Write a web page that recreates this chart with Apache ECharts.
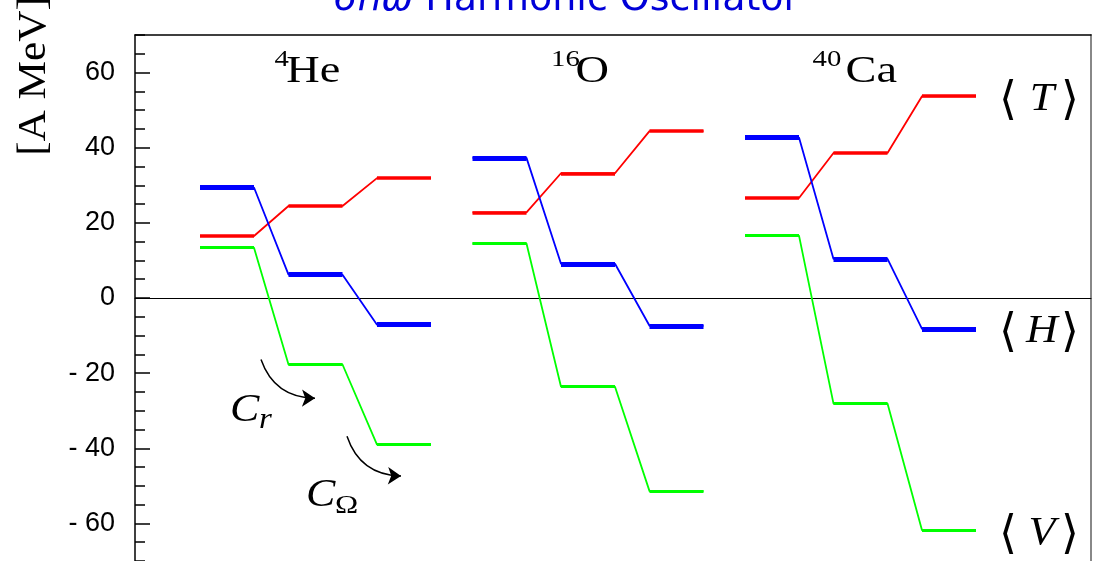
<!DOCTYPE html>
<html><head><meta charset="utf-8">
<script src="https://cdn.jsdelivr.net/npm/echarts@6/dist/echarts.min.js"></script>
<style>html,body{margin:0;padding:0;background:#fff}#c{width:1102px;height:561px}</style>
</head><body><div id="c"></div>
<script>
// ---- data ----
const massNumbers = ['4', '16', '40'];
const elements = ['He', 'O', 'Ca'];
const kineticT = [[16.5, 24.5, 31.9], [22.8, 33.2, 44.4], [26.6, 38.6, 53.7]];
const potentialV = [[13.4, -17.7, -39.0], [14.5, -23.6, -51.4], [16.6, -28.1, -61.8]];
const totalH = [[29.4, 6.2, -7.1], [37.3, 9.1, -7.4], [42.7, 10.4, -8.2]];
const yTickLabels = [-60, -40, -20, 0, 20, 40, 60];
const quantityNames = ['T', 'V', 'H'];
const titleItalic = '6ℏω';
const titleRest = ' Harmonic Oscillator';
const yName = '[A MeV]';

// ---- layout ----
const GRID = { left: 135, right: 11, top: 35, bottom: -2 };
const X_MAX = 956;
const LEVEL_W = 54;
function levelX(i, j) { return 65 + i * 272.5 + j * 88.5; }
const SERIF = '"Liberation Serif","Times New Roman",serif';
const SANS = '"Liberation Sans",Arial,sans-serif';

const quantities = [
  { name: quantityNames[0], values: kineticT, color: '#ff0000', thick: 3.5, thin: 1.8 },
  { name: quantityNames[1], values: potentialV, color: '#00ff00', thick: 3.2, thin: 1.8 },
  { name: quantityNames[2], values: totalH, color: '#0000ff', thick: 5, thin: 1.8 }
];

const series = [];
quantities.forEach(q => {
  const seg = [];
  q.values.forEach((lv, i) => {
    const pts = [];
    lv.forEach((v, j) => {
      const x0 = levelX(i, j);
      pts.push([x0, v], [x0 + LEVEL_W, v]);
      seg.push({ coords: [[x0, v], [x0 + LEVEL_W, v]] });
    });
    series.push({
      type: 'line', data: pts, showSymbol: false, symbol: 'none', silent: true,
      lineStyle: { color: q.color, width: q.thin }, z: 3
    });
  });
  series.push({
    type: 'lines', coordinateSystem: 'cartesian2d', polyline: false, silent: true,
    lineStyle: { color: q.color, width: q.thick, opacity: 1, cap: 'butt' },
    data: seg, z: 4
  });
});

// curved arrows (C_r and C_Omega)
const arrowCoords = [
  [[126, -16.4], [180, -26.7]],
  [[212, -36.8], [266, -47.4]]
];
series.push({
  type: 'lines', coordinateSystem: 'cartesian2d', silent: true,
  symbol: ['none', 'arrow'], symbolSize: 13,
  lineStyle: { color: '#000', width: 1.5, opacity: 1, curveness: -0.35 },
  itemStyle: { color: '#000' },
  data: arrowCoords.map(c => ({ coords: c })), z: 5
});

function txt(text, x, baseline, fs, opts) {
  opts = opts || {};
  return {
    type: 'text', x: x, y: baseline - 0.34 * fs, silent: true, z: 10,
    scaleX: opts.scaleX || 1,
    originX: 0, originY: 0,
    style: {
      text: text, fontSize: fs, fontFamily: opts.family || SERIF,
      fontStyle: opts.italic ? 'italic' : 'normal',
      fill: opts.color || '#000', align: opts.align || 'left', verticalAlign: 'middle'
    }
  };
}

const supLeft = [274.5, 551, 812.5];
const mainLeft = [286.3, 575.4, 845.6];
const graphics = [];
massNumbers.forEach((m, i) => {
  graphics.push(txt(m, supLeft[i], 68, 23, { scaleX: 1.25 }));
  graphics.push(txt(elements[i], mainLeft[i], 85, 38, { scaleX: 1.22 }));
});
// title
graphics.push({
  type: 'text', x: 333, y: 13 - 0.346 * 38, silent: true, z: 10,
  style: {
    text: '{i|' + titleItalic + '}{n|' + titleRest + '}',
    fill: '#0000d8', align: 'left', verticalAlign: 'middle',
    fontSize: 38, fontFamily: '"DejaVu Sans",sans-serif',
    rich: {
      i: { fontSize: 38, fontFamily: '"DejaVu Sans",sans-serif', fontStyle: 'italic', fill: '#0000d8', color: '#0000d8' },
      n: { fontSize: 38, fontFamily: '"DejaVu Sans",sans-serif', fill: '#0000d8', color: '#0000d8' }
    }
  }
});
// y axis name (rotated)
graphics.push({
  type: 'text', x: 34, y: 76, rotation: Math.PI / 2, scaleX: 1.08, silent: true, z: 10,
  style: { text: yName, fontSize: 40, fontFamily: SERIF, fill: '#000', align: 'center', verticalAlign: 'middle' }
});
// C_r, C_Omega
graphics.push(txt('C', 230, 424, 40, { italic: true, scaleX: 1.1 }));
graphics.push(txt('r', 259, 430, 30, { italic: true, scaleX: 1.1 }));
graphics.push(txt('C', 306, 509, 40, { italic: true, scaleX: 1.1 }));
graphics.push(txt('Ω', 335, 515, 26, { scaleX: 1.2 }));

const chart = echarts.init(document.getElementById('c'), null, { renderer: 'canvas' });
const noSplit = { show: false };
chart.setOption({
  animation: false,
  backgroundColor: '#fff',
  grid: Object.assign({ containLabel: false }, GRID),
  xAxis: [
    { type: 'value', min: 0, max: X_MAX, position: 'top',
      axisLine: { show: true, onZero: false, lineStyle: { color: '#000', width: 1.5 } },
      axisTick: { show: false }, axisLabel: { show: false }, splitLine: noSplit },
    { type: 'value', min: 0, max: X_MAX, position: 'bottom',
      axisLine: { show: true, onZero: true, onZeroAxisIndex: 0, lineStyle: { color: '#000', width: 1 } },
      axisTick: { show: false }, axisLabel: { show: false }, splitLine: noSplit }
  ],
  yAxis: [
    { type: 'value', min: -70, max: 70, interval: 10, position: 'left',
      axisLine: { show: true, onZero: false, lineStyle: { color: '#000', width: 1.5 } },
      axisTick: { show: true, inside: true, length: 15, customValues: yTickLabels, lineStyle: { color: '#000', width: 1.5 } },
      axisLabel: { show: true, customValues: yTickLabels, margin: 20, fontSize: 27, fontFamily: SANS, color: '#000',
        formatter: v => (v < 0 ? '- ' + Math.abs(v) : String(v)) },
      splitLine: noSplit },
    { type: 'value', min: -70, max: 70, interval: 5, position: 'left',
      axisLine: { show: false },
      axisTick: { show: true, inside: true, length: 10, lineStyle: { color: '#000', width: 1.5 } },
      axisLabel: { show: false }, splitLine: noSplit },
    { type: 'value', min: -70, max: 70, position: 'right',
      axisLine: { show: true, onZero: false, lineStyle: { color: '#888', width: 2 } },
      axisTick: { show: false }, axisLabel: { show: false }, splitLine: noSplit }
  ],
  series: series,
  graphic: graphics
});

// right-hand quantity labels, placed at the last level of the last nucleus
quantities.forEach(q => {
  const lastNuc = q.values.length - 1;
  const lastLv = q.values[lastNuc].length - 1;
  const p = chart.convertToPixel({ xAxisIndex: 0, yAxisIndex: 0 },
    [levelX(lastNuc, lastLv) + LEVEL_W, q.values[lastNuc][lastLv]]);
  graphics.push({ type: 'text', x: p[0] + 23, y: p[1] + 5.5, silent: true, z: 10,
    style: { text: '⟨', fontSize: 46, fontFamily: '"DejaVu Serif",serif', fill: '#000', align: 'left', verticalAlign: 'middle' } });
  graphics.push({ type: 'text', x: p[0] + 66, y: p[1] + 3, silent: true, z: 10, scaleX: 1.1,
    style: { text: q.name, fontSize: 40, fontFamily: SERIF, fontStyle: 'italic', fill: '#000', align: 'center', verticalAlign: 'middle' } });
  graphics.push({ type: 'text', x: p[0] + 103, y: p[1] + 5.5, silent: true, z: 10,
    style: { text: '⟩', fontSize: 46, fontFamily: '"DejaVu Serif",serif', fill: '#000', align: 'right', verticalAlign: 'middle' } });
});
chart.setOption({ graphic: graphics }, { replaceMerge: ['graphic'] });
</script>
</body></html>
